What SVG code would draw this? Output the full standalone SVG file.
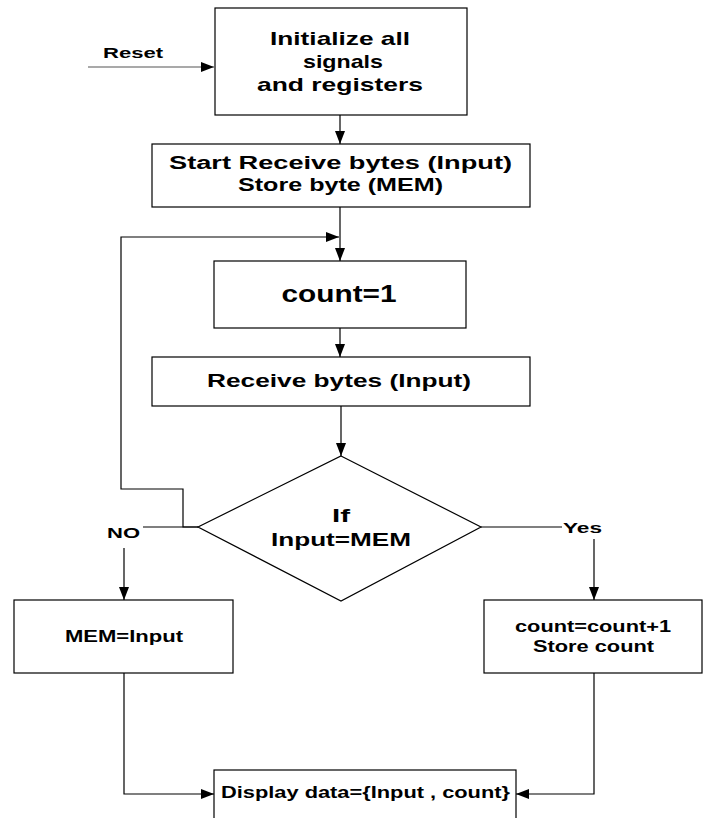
<svg xmlns="http://www.w3.org/2000/svg" width="710" height="818" viewBox="0 0 710 818">
<style>
.box{fill:#fff;stroke:#000;stroke-width:1.2}
.ln{fill:none;stroke:#000;stroke-width:1.2}
.gr{stroke:#555}
text{font-family:"Liberation Sans",Arial,sans-serif;font-weight:bold;fill:#000;text-anchor:middle}
</style>
<defs>
<marker id="ah" markerWidth="13" markerHeight="10" refX="13" refY="5" orient="auto" markerUnits="userSpaceOnUse"><path d="M0,0 L13,5 L0,10 z" fill="#000"/></marker>
</defs>
<rect width="710" height="818" fill="#fff"/>
<g id="connectors">
<line class="ln gr" x1="88" y1="67" x2="214" y2="67" marker-end="url(#ah)"/>
<line class="ln" x1="340" y1="115" x2="340" y2="144" marker-end="url(#ah)"/>
<line class="ln" x1="340" y1="207" x2="340" y2="261" marker-end="url(#ah)"/>
<polyline class="ln" points="198,527 183,527 183,489 121,489 121,237 339,237" marker-end="url(#ah)"/>
<line class="ln" x1="340" y1="328" x2="340" y2="357" marker-end="url(#ah)"/>
<line class="ln" x1="341" y1="406" x2="341" y2="456" marker-end="url(#ah)"/>
<line class="ln" x1="143" y1="527" x2="198" y2="527"/>
<line class="ln" x1="124" y1="548" x2="124" y2="600" marker-end="url(#ah)"/>
<line class="ln" x1="481" y1="527" x2="562" y2="527"/>
<line class="ln" x1="594" y1="539" x2="594" y2="600" marker-end="url(#ah)"/>
<polyline class="ln" points="124,673 124,794 214,794" marker-end="url(#ah)"/>
<polyline class="ln" points="594,673 594,794 516,794" marker-end="url(#ah)"/>
<text x="133" y="58" font-size="15" textLength="60" lengthAdjust="spacingAndGlyphs">Reset</text>
<text x="123.5" y="538" font-size="15" textLength="33" lengthAdjust="spacingAndGlyphs">NO</text>
<text x="582.5" y="533" font-size="15" textLength="39" lengthAdjust="spacingAndGlyphs">Yes</text>
</g>
<g id="init">
<rect class="box" x="215" y="8" width="252" height="107"/>
<text x="340" y="45" font-size="19" textLength="140" lengthAdjust="spacingAndGlyphs">Initialize all</text>
<text x="343" y="68" font-size="19" textLength="80" lengthAdjust="spacingAndGlyphs">signals</text>
<text x="340" y="91" font-size="19" textLength="166" lengthAdjust="spacingAndGlyphs">and registers</text>
</g>
<g id="start">
<rect class="box" x="152" y="144" width="378" height="63"/>
<text x="340.5" y="169" font-size="18" textLength="343" lengthAdjust="spacingAndGlyphs">Start Receive bytes (Input)</text>
<text x="340.5" y="191" font-size="18" textLength="205" lengthAdjust="spacingAndGlyphs">Store byte (MEM)</text>
</g>
<g id="count1">
<rect class="box" x="214" y="261" width="252" height="67"/>
<text x="339" y="302" font-size="24" textLength="115" lengthAdjust="spacingAndGlyphs">count=1</text>
</g>
<g id="receive">
<rect class="box" x="152" y="357" width="378" height="49"/>
<text x="339" y="387" font-size="18" textLength="264" lengthAdjust="spacingAndGlyphs">Receive bytes (Input)</text>
</g>
<g id="decision">
<polygon class="box" points="341,456 481,527 341,601 198,527"/>
<text x="341" y="522" font-size="18" textLength="18" lengthAdjust="spacingAndGlyphs">If</text>
<text x="341" y="546" font-size="18" textLength="140" lengthAdjust="spacingAndGlyphs">Input=MEM</text>
</g>
<g id="mem">
<rect class="box" x="14" y="600" width="219" height="73"/>
<text x="124" y="642" font-size="16" textLength="118" lengthAdjust="spacingAndGlyphs">MEM=Input</text>
</g>
<g id="inc">
<rect class="box" x="484" y="600" width="218" height="73"/>
<text x="593" y="632" font-size="16" textLength="156" lengthAdjust="spacingAndGlyphs">count=count+1</text>
<text x="593.5" y="652" font-size="16" textLength="121" lengthAdjust="spacingAndGlyphs">Store count</text>
</g>
<g id="display">
<rect class="box" x="214" y="770" width="302" height="60"/>
<text x="365.5" y="798" font-size="16" textLength="289" lengthAdjust="spacingAndGlyphs">Display data={Input , count}</text>
</g>
</svg>
